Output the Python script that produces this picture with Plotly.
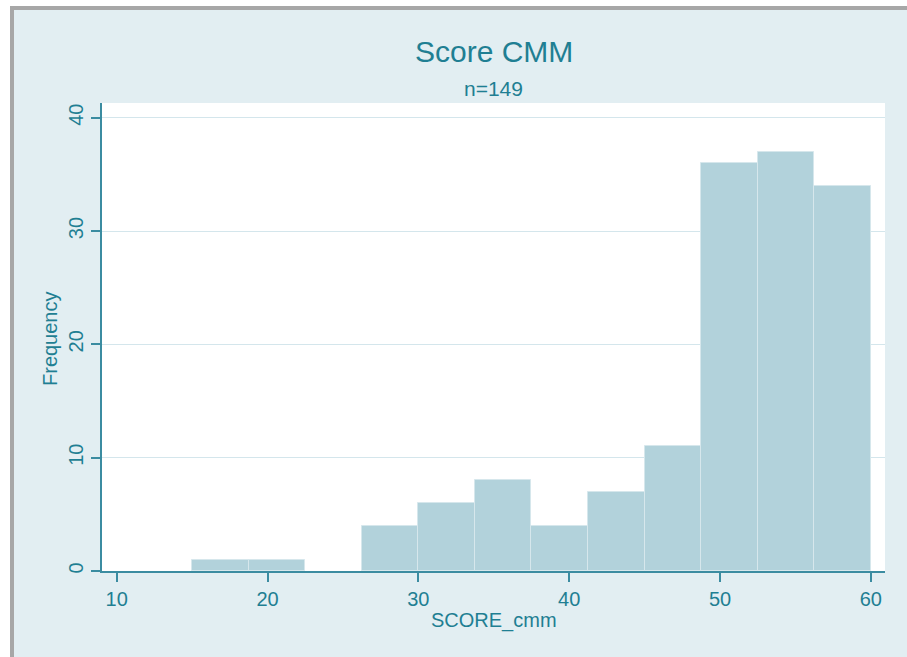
import plotly.graph_objects as go

# ---- data ----
bin_edges = [15, 18.75, 22.5, 26.25, 30, 33.75, 37.5, 41.25, 45, 48.75, 52.5, 56.25, 60]
counts = [1, 1, 0, 4, 6, 8, 4, 7, 11, 36, 37, 34]
x_ticks = [10, 20, 30, 40, 50, 60]
y_ticks = [0, 10, 20, 30, 40]
title_text = "Score CMM"
subtitle_text = "n=149"
x_title = "SCORE_cmm"
y_title = "Frequency"

centers = [(a + b) / 2 for a, b in zip(bin_edges[:-1], bin_edges[1:])]
widths = [b - a for a, b in zip(bin_edges[:-1], bin_edges[1:])]
outline_w = [1 if c > 0 else 0 for c in counts]

W, H = 907, 657
L, R, T, B = 102, 22, 103, 86
PW, PH = W - L - R, H - T - B

def px_x(p):
    return (p - L) / PW

def px_y(p):
    return 1 - (p - T) / PH

TEXT = "#1f7f93"
AXIS = "#3b8ca1"
BG = "#e2eef2"
FONT = "Liberation Sans, Arial, sans-serif"

fig = go.Figure()
fig.add_trace(go.Bar(
    x=centers, y=counts, width=widths,
    marker=dict(color="#b2d2db", line=dict(color="#d6e7ec", width=outline_w)),
    hoverinfo="x+y",
))

shapes = [
    dict(type="rect", xref="paper", yref="paper", x0=px_x(0), x1=px_x(W), y0=px_y(0), y1=px_y(6),
         fillcolor="white", line=dict(width=0)),
    dict(type="rect", xref="paper", yref="paper", x0=px_x(0), x1=px_x(10), y0=px_y(0), y1=px_y(H),
         fillcolor="white", line=dict(width=0)),
    dict(type="rect", xref="paper", yref="paper", x0=px_x(10), x1=px_x(W), y0=px_y(6), y1=px_y(10),
         fillcolor="#a7a7a7", line=dict(width=0)),
    dict(type="rect", xref="paper", yref="paper", x0=px_x(10), x1=px_x(14), y0=px_y(6), y1=px_y(H),
         fillcolor="#a7a7a7", line=dict(width=0)),
    dict(type="line", xref="paper", yref="y", x0=px_x(93), x1=0, y0=0, y1=0,
         line=dict(color=AXIS, width=1.5)),
]

annotations = [
    dict(text=title_text, x=0.5, y=px_y(52), xref="paper", yref="paper", showarrow=False,
         xanchor="center", yanchor="middle", font=dict(size=30, color=TEXT, family=FONT)),
    dict(text=subtitle_text, x=0.5, y=px_y(88), xref="paper", yref="paper", showarrow=False,
         xanchor="center", yanchor="middle", font=dict(size=21, color=TEXT, family=FONT)),
    dict(text=x_title, x=0.5, y=px_y(620), xref="paper", yref="paper", showarrow=False,
         xanchor="center", yanchor="middle", font=dict(size=20, color=TEXT, family=FONT)),
    dict(text=y_title, x=px_x(50), y=px_y(339), xref="paper", yref="paper", showarrow=False,
         xanchor="center", yanchor="middle", textangle=-90, font=dict(size=20, color=TEXT, family=FONT)),
]

fig.update_layout(
    width=W, height=H,
    margin=dict(l=L, r=R, t=T, b=B, pad=0),
    paper_bgcolor=BG, plot_bgcolor="white",
    showlegend=False, bargap=0,
    font=dict(family=FONT, color=TEXT, size=20),
    shapes=shapes, annotations=annotations,
    xaxis=dict(range=[9.025, 60.94], tickvals=x_ticks, ticks="outside", ticklen=9, tickwidth=1.5,
               tickcolor=AXIS, showline=True, linecolor=AXIS, linewidth=1.5, showgrid=False,
               zeroline=False, tickfont=dict(size=20, color=TEXT), fixedrange=True),
    yaxis=dict(range=[0, 41.3], tickvals=y_ticks, ticks="outside", ticklen=9, tickwidth=1.5,
               tickcolor=AXIS, showline=True, linecolor=AXIS, linewidth=1.5, showgrid=True,
               gridcolor="#d4e6ec", gridwidth=1, zeroline=False, tickangle=-90,
               tickfont=dict(size=20, color=TEXT), fixedrange=True),
)

fig.write_html("out.html", config={"displayModeBar": False},
               post_script="document.body.style.margin='0';document.body.style.overflow='hidden';")
